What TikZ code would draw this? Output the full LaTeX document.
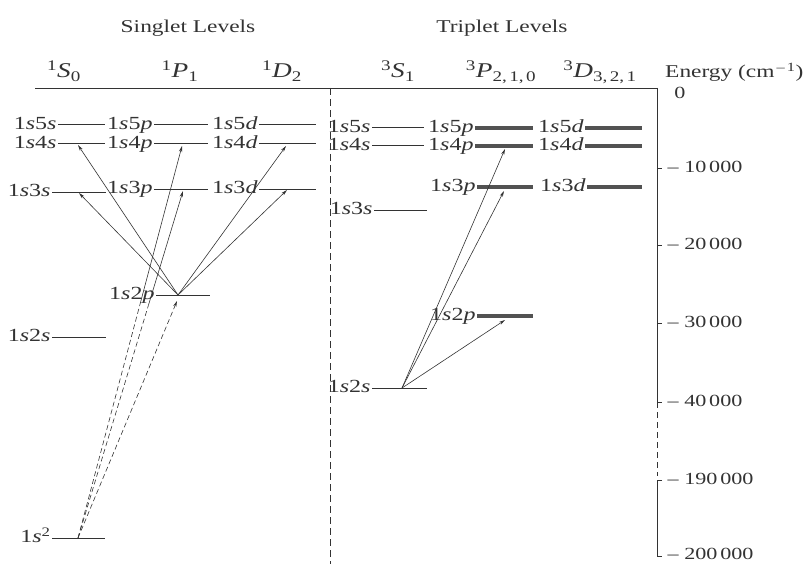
\documentclass[tikz,border=0pt]{standalone}
\usepackage{fontspec}
\setmainfont[FakeStretch=1.3]{Liberation Serif}
\usetikzlibrary{arrows.meta,calc}
\definecolor{ink}{gray}{0.2}
\newcommand\cfg[2]{1\textit{s}#1\textit{#2}}
\newcommand\termsym[3]{\textsuperscript{#1}\textit{#2}\textsubscript{#3}}
\begin{document}
\begin{tikzpicture}[x=1pt,y=-1pt,
  lvl/.style={line width=1pt,draw=ink},
  lab/.style={anchor=mid east,yshift=-2.1pt,inner sep=1.2pt,font=\fontsize{18.5}{21}\selectfont,text=ink},
  head/.style={anchor=base,inner sep=0pt,font=\fontsize{18}{21}\selectfont,text=ink},
  term/.style={anchor=base,inner sep=0pt,font=\fontsize{21}{24}\selectfont,text=ink},
  ticklab/.style={anchor=mid west,yshift=-1.9pt,inner sep=1.5pt,font=\fontsize{17}{20}\selectfont,text=ink},
  arr/.style={-{Stealth[length=6pt,width=3.2pt]},line width=0.6pt,draw=ink},
  dsh/.style={line width=0.6pt,draw=ink,dash pattern=on 5pt off 3pt},
  axis/.style={line width=0.9pt,draw=ink}]
\useasboundingbox (0,0) rectangle (810,564);
\newcommand\mklevel[5]{%
  \coordinate (#1-l) at (#2,#4); \coordinate (#1-r) at (#3,#4);
  \draw[lvl] (#1-l) -- (#1-r);
  \node[lab] (#1-t) at (#1-l) {#5};}
\newcommand\mktrip[5]{%
  \coordinate (#1-l) at (#2,#4); \coordinate (#1-r) at (#3,#4);
  \foreach \dy in {-1.8,0,1.8}{\draw[line width=1.3pt,draw=black!68] ([yshift=\dy pt]#1-l) -- ([yshift=\dy pt]#1-r);}
  \node[lab] (#1-t) at (#1-l) {#5};}
% titles
\node[head] (tsing) at (188,33) {Singlet Levels};
\node[head] (ttrip) at (502,33) {Triplet Levels};
\node[term] (hS0) at (64,78) {\termsym{1}{S}{0}};
\node[term] (hP1) at (180,78) {\termsym{1}{P}{1}};
\node[term] (hD2) at (282,78) {\termsym{1}{D}{2}};
\node[term] (hS1) at (398,78) {\termsym{3}{S}{1}};
\node[term] (hP3) at (501,78) {\termsym{3}{P}{2,\,1,\,0}};
\node[term] (hD3) at (600,78) {\termsym{3}{D}{3,\,2,\,1}};
\node[head,anchor=base west,font=\fontsize{18}{21}\selectfont] (hE) at (665,78) {Energy (cm\textsuperscript{\,–\,1})};
% frame lines
\coordinate (topL) at (35,88);
\coordinate (ax0) at (657,88);
\coordinate (divT) at (330,88);
\coordinate (divB) at (330,564);
\draw[line width=0.8pt,draw=ink] (topL) -- (ax0);
\draw[line width=0.7pt,draw=ink,dash pattern=on 7pt off 4pt] (divT) -- (divB);
% energy axis
\coordinate (ax4) at (657,402);
\coordinate (axd) at (657,476);
\coordinate (ax19) at (657,480);
\coordinate (ax20) at (657,556);
\draw[axis] (ax0) -- (ax4) -- ++(5,0);
\draw[line width=0.7pt,draw=ink,dash pattern=on 6pt off 4pt] (ax4) -- (axd);
\draw[axis] ([xshift=5pt]ax19) -- (ax19) -- (ax20) -- ++(5,0);
\foreach \yy in {168,245,323}{\draw[axis] (657,\yy) -- ++(5,0);}
\node[ticklab,anchor=mid] (e0) at (680,94) {0};
\node[ticklab] (e10) at (666,168) {– 10\,000};
\node[ticklab] (e20) at (666,245) {– 20\,000};
\node[ticklab] (e30) at (666,323) {– 30\,000};
\node[ticklab] (e40) at (666,402) {– 40\,000};
\node[ticklab] (e190) at (666,480) {– 190\,000};
\node[ticklab] (e200) at (666,555) {– 200\,000};
% singlet levels
\mklevel{s5s}{58}{105}{125}{\cfg{5}{s}}
\mklevel{s4s}{58}{105}{144}{\cfg{4}{s}}
\mklevel{s3s}{52}{106}{192}{\cfg{3}{s}}
\mklevel{s2s}{52}{106}{337}{\cfg{2}{s}}
\mklevel{g}{52}{105}{538}{1\textit{s}\textsuperscript{2}}
\mklevel{s5p}{154}{208}{125}{\cfg{5}{p}}
\mklevel{s4p}{154}{208}{144}{\cfg{4}{p}}
\mklevel{s3p}{154}{208}{189}{\cfg{3}{p}}
\mklevel{s2p}{156}{210}{295}{\cfg{2}{p}}
\mklevel{s5d}{259}{316}{125}{\cfg{5}{d}}
\mklevel{s4d}{259}{316}{144}{\cfg{4}{d}}
\mklevel{s3d}{259}{316}{189}{\cfg{3}{d}}
% triplet levels
\mklevel{t5s}{372}{424}{128}{\cfg{5}{s}}
\mklevel{t4s}{372}{424}{146}{\cfg{4}{s}}
\mklevel{t3s}{374}{427}{210}{\cfg{3}{s}}
\mklevel{t2s}{372}{427}{388}{\cfg{2}{s}}
\mktrip{t5p}{475}{533}{128}{\cfg{5}{p}}
\mktrip{t4p}{475}{533}{146}{\cfg{4}{p}}
\mktrip{t3p}{477}{533}{187}{\cfg{3}{p}}
\mktrip{t2p}{477}{533}{316}{\cfg{2}{p}}
\mktrip{t5d}{585}{642}{128}{\cfg{5}{d}}
\mktrip{t4d}{585}{642}{146}{\cfg{4}{d}}
\mktrip{t3d}{587}{642}{187}{\cfg{3}{d}}
% singlet transitions
\coordinate (p2) at (178,295);
\coordinate (a4s) at (78,145);
\coordinate (a3s) at (79,193);
\coordinate (a4d) at (286,146);
\coordinate (a3d) at (287,190);
\draw[arr] (p2) -- (a4s);
\draw[arr] (p2) -- (a3s);
\draw[arr] (p2) -- (a4d);
\draw[arr] (p2) -- (a3d);
\coordinate (g0) at (78,538);
\coordinate (a2p) at (177,301);
\coordinate (a3p) at (183,191);
\coordinate (a4p) at (182,146);
\coordinate (m3p) at ($(g0)!0.67!(a3p)$);
\coordinate (m4p) at ($(g0)!0.60!(a4p)$);
\draw[dsh] (g0) -- (m3p);
\draw[dsh] (g0) -- (m4p);
\draw[arr] (m3p) -- (a3p);
\draw[arr] (m4p) -- (a4p);
\draw[arr,dash pattern=on 5pt off 3pt] (g0) -- (a2p);
% triplet transitions
\coordinate (h0) at (402,388);
\coordinate (b2p) at (505,320);
\coordinate (b3p) at (504,191);
\coordinate (b4p) at (505,149);
\draw[arr] (h0) -- (b2p);
\draw[arr] (h0) -- (b3p);
\draw[arr] (h0) -- (b4p);
\end{tikzpicture}
\end{document}
